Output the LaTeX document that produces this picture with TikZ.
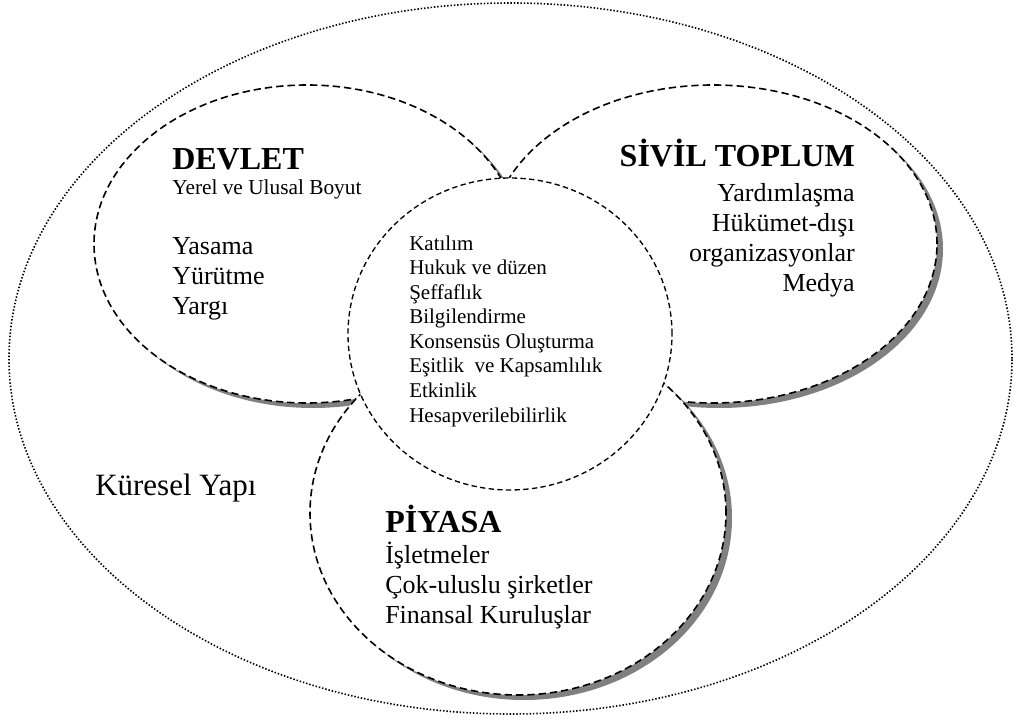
\documentclass[tikz,border=0pt]{standalone}
\usepackage{fontspec}
\setmainfont{Liberation Serif}
\usetikzlibrary{shapes.geometric,shadows}

\begin{document}
\begin{tikzpicture}[x=0.75pt,y=-0.75pt,
		kume/.style={ellipse, draw, fill=white, line width=1.2pt, dash pattern=on 5.5pt off 3pt, inner sep=0pt, outer sep=0pt,
			drop shadow={shadow xshift=4.5pt, shadow yshift=-3.75pt, fill=black!50, opacity=1}},
		baslik/.style={font=\bfseries\fontsize{24}{28}\selectfont, inner sep=0pt},
		liste/.style={font=\fontsize{19.5}{22.5}\selectfont, inner sep=0pt},
		]
		\useasboundingbox (0,0) rectangle (1021,720);
		% kumeler
		\node[ellipse, draw, line width=1.2pt, dash pattern=on 1.1pt off 1.4pt, inner sep=0pt, minimum width=752.25pt, minimum height=533.25pt] (kuresel) at (510.5,358.5) {};
		\node[kume, minimum width=319.5pt, minimum height=238.5pt] (devlet) at (307,244) {};
		\node[kume, minimum width=336pt, minimum height=238.5pt] (sivil) at (713,244) {};
		\node[kume, minimum width=312pt, minimum height=273pt] (piyasa) at (518,513) {};
		\node[ellipse, draw, fill=white, line width=1pt, dash pattern=on 4pt off 2.5pt, inner sep=0pt, minimum width=243pt, minimum height=234pt] (ilkeler) at (510,334) {};
		% yazilar (cok satirli dugumlerde base = son satir)
		\node[baslik, anchor=base west] (devletbaslik) at (172,170) {DEVLET};
		\node[anchor=base west, inner sep=0pt, font=\fontsize{16}{19}\selectfont] (devletalt) at (172,195) {Yerel ve Ulusal Boyut};
		\node[liste, anchor=base west, align=left] (devletliste) at (172,315) {Yasama\\Yürütme\\Yargı};
		\node[baslik, anchor=base east] (sivilbaslik) at (855,167) {SİVİL TOPLUM};
		\node[liste, anchor=base east, align=right] (sivilliste) at (855,292) {Yardımlaşma\\Hükümet-dışı\\organizasyonlar\\Medya};
		\node[baslik, anchor=base west] (piyasabaslik) at (385,532) {PİYASA};
		\node[liste, anchor=base west, align=left] (piyasaliste) at (385,623) {İşletmeler\\Çok-uluslu şirketler\\Finansal Kuruluşlar};
		\node[anchor=base west, align=left, inner sep=0pt, font=\fontsize{15.75}{18.4}\selectfont] (ilkeliste) at (409,422) {Katılım\\Hukuk ve düzen\\Şeffaflık\\Bilgilendirme\\Konsensüs Oluşturma\\Eşitlik\ \ ve Kapsamlılık\\Etkinlik\\Hesapverilebilirlik};
		\node[anchor=base west, inner sep=0pt, font=\fontsize{23.25}{27}\selectfont] (kureselyazi) at (95,495) {Küresel Yapı};
	\end{tikzpicture}
\end{document}
